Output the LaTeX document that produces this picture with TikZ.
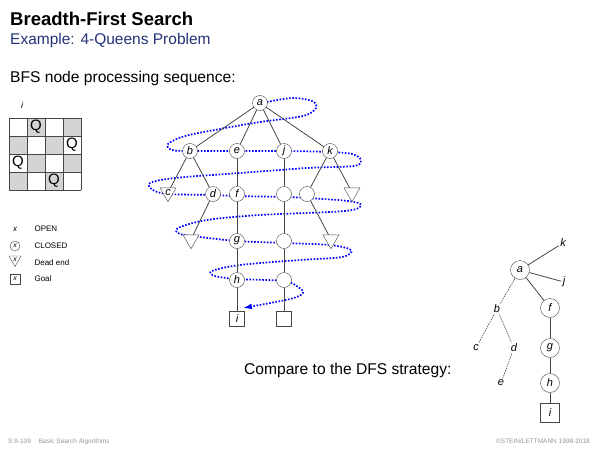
\documentclass[tikz,border=0pt]{standalone}
\usepackage{fontspec}
\setmainfont{Liberation Sans}
\usetikzlibrary{
	arrows.meta,
	shapes.geometric,
	backgrounds
}
\definecolor{TitleBlue}{RGB}{35, 50, 120}
\definecolor{EdgeGray}{RGB}{70, 70, 70}
\definecolor{BoardGray}{RGB}{212, 212, 212}
\definecolor{FootGray}{RGB}{150, 150, 150}

\begin{document}
\begin{tikzpicture}[x=1pt, y=1pt,
		lbl/.style={font=\fontsize{11}{13}\selectfont\itshape},
		closednode/.style={lbl, circle, draw=EdgeGray, fill=white, minimum size=15pt, inner sep=0pt},
		deadend/.style={lbl, regular polygon, regular polygon sides=3, shape border rotate=180, draw=EdgeGray, fill=white, minimum size=18.5pt, inner sep=0pt},
		goalnode/.style={lbl, rectangle, draw=EdgeGray, fill=white, minimum size=15pt, inner sep=0pt},
		dfsnode/.style={lbl, inner sep=1.5pt},
		edge/.style={EdgeGray, line width=0.8pt},
		trail/.style={blue, line width=1.7pt, dash pattern=on 1.6pt off 1.6pt, -{Latex[length=9pt, width=6pt]}}]
		\useasboundingbox (0,0) rectangle (600,-450);
		% header
		\node[anchor=base west, inner sep=0pt, font=\fontsize{18.5}{20}\selectfont\bfseries] (title) at (10,-25) {Breadth-First Search};
		\node[anchor=base west, inner sep=0pt, text=TitleBlue, font=\fontsize{15.5}{18}\selectfont] (subtitle) at (10,-44.5) {Example: 4-Queens Problem};
		\node[anchor=base west, inner sep=0pt, font=\fontsize{15.6}{18}\selectfont] (heading) at (10,-82.7) {BFS node processing sequence:};
		% board
		\node[lbl, font=\fontsize{9}{10}\selectfont\itshape] (boardname) at (22,-105) {i};
		\foreach \c/\r in {2/1, 4/1, 1/2, 3/2, 2/3, 4/3, 1/4, 3/4}
			\fill[BoardGray] ({18*\c-9},{-118-18*\r}) rectangle ++(18,18);
		\draw[EdgeGray, line width=0.7pt, shift={(9,-118)}] (0,0) grid[step=18] (72,-72);
		\foreach \c/\r in {2/1, 4/2, 1/3, 3/4}
			\node[font=\fontsize{15}{18}\selectfont] (q\c) at ({18*\c},{-109-18*\r}) {Q};
		% legend
		\begin{scope}[every node/.style={font=\fontsize{8}{10}\selectfont}]
			\node[font=\fontsize{8}{10}\selectfont\itshape] (lopen) at (15,-229) {x};
			\node[closednode, minimum size=10pt, font=\fontsize{7}{8}\selectfont\itshape] (lclosed) at (15,-246) {x};
			\node[deadend, minimum size=14pt, font=\fontsize{7}{8}\selectfont\itshape] (ldead) at (15,-259.5) {x};
			\node[goalnode, minimum size=10.5pt, font=\fontsize{7}{8}\selectfont\itshape] (lgoal) at (15,-279) {x};
			\node[anchor=west] (topen) at (31,-229) {OPEN};
			\node[anchor=west] (tclosed) at (31,-246) {CLOSED};
			\node[anchor=west] (tdead) at (31,-263) {Dead end};
			\node[anchor=west] (tgoal) at (31,-279) {Goal};
		\end{scope}
		% BFS tree
		\node[closednode] (a) at (260,-103) {a};
		\node[closednode] (b) at (190,-151) {b};
		\node[closednode] (e) at (237,-151) {e};
		\node[closednode] (j) at (284,-151) {j};
		\node[closednode] (k) at (330,-151) {k};
		\node[deadend] (c) at (168,-192.5) {c};
		\node[closednode] (d) at (213,-194) {d};
		\node[closednode] (f) at (237,-194) {f};
		\node[closednode] (j1) at (284,-194) {};
		\node[closednode] (k1) at (307,-194) {};
		\node[deadend] (k2) at (352,-192.5) {};
		\node[deadend] (d1) at (191,-239.5) {};
		\node[closednode] (g) at (237,-241) {g};
		\node[closednode] (j2) at (284,-241) {};
		\node[deadend] (k11) at (331,-239.5) {};
		\node[closednode] (h) at (237,-280) {h};
		\node[closednode] (j3) at (284,-280) {};
		\node[goalnode] (i) at (237,-319) {i};
		\node[goalnode] (j4) at (284,-319) {};
		\foreach \u/\v in {a/b, a/e, a/j, a/k, b/c, b/d, d/d1, e/f, f/g, g/h, h/i, j/j1, j1/j2, j2/j3, j3/j4, k/k1, k/k2, k1/k11}
			\draw[edge] (\u) -- (\v);
		\begin{scope}[on background layer]
			\draw[trail, smooth, tension=0.55] plot coordinates {
				(267,-102) (292,-98) (312,-101) (316,-108) (303,-116) (260,-122) (220,-129) (185,-136) (168,-144) (172,-150)
				(190,-151) (237,-151) (284,-151) (330,-152) (352,-154) (361,-160) (354,-166) (307,-168) (240,-173) (175,-178)
				(150,-183) (153,-190) (168,-194) (213,-195) (237,-196) (284,-197) (307,-198) (348,-201) (361,-205) (345,-211)
				(260,-215) (207,-220) (178,-228) (180,-234) (200,-237) (237,-241) (284,-243) (330,-245) (351,-250) (342,-257)
				(300,-260) (240,-265) (212,-271) (215,-276) (237,-279) (284,-281) (298,-287) (303,-293) (290,-299) (243,-308)};
		\end{scope}
		% DFS tree
		\node[anchor=base west, inner sep=0pt, font=\fontsize{15.6}{18}\selectfont] (compare) at (244,-374) {Compare to the DFS strategy:};
		\node[closednode, minimum size=19pt] (sa) at (520,-270) {a};
		\node[dfsnode] (sk) at (563,-243) {k};
		\node[dfsnode] (sj) at (564,-282) {j};
		\node[dfsnode] (sb) at (497,-309) {b};
		\node[closednode, minimum size=19pt] (sf) at (550,-308) {f};
		\node[dfsnode] (sc) at (476,-348) {c};
		\node[dfsnode] (sd) at (514,-348) {d};
		\node[dfsnode] (se) at (501,-383) {e};
		\node[closednode, minimum size=19pt] (sg) at (550,-348) {g};
		\node[closednode, minimum size=19pt] (sh) at (550,-383) {h};
		\node[goalnode, minimum size=19pt] (si) at (550,-413) {i};
		\foreach \u/\v in {sa/sk, sa/sj, sa/sf, sf/sg, sg/sh, sh/si}
			\draw[edge] (\u) -- (\v);
		\foreach \u/\v in {sa/sb, sb/sc, sb/sd, sd/se}
			\draw[edge, line width=0.6pt, dash pattern=on 1.5pt off 1pt] (\u) -- (\v);
		% footer
		\node[anchor=base west, inner sep=0pt, text=FootGray, font=\fontsize{6.5}{8}\selectfont] (foot) at (8,-443) {S:II-109\hspace{1.2em}Basic Search Algorithms};
		\node[anchor=base east, inner sep=0pt, text=FootGray, font=\fontsize{6.5}{8}\selectfont] (copy) at (590,-443) {\textcopyright STEIN/LETTMANN 1998-2018};
	\end{tikzpicture}
\end{document}
